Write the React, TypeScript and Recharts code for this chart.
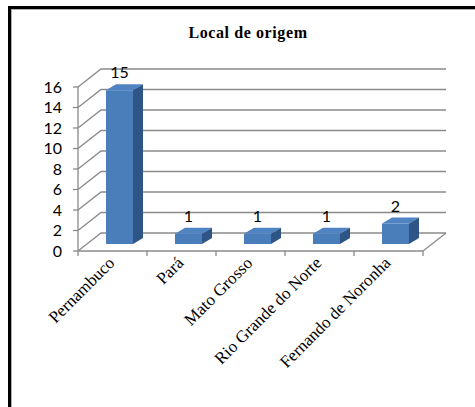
import { BarChart, Bar, XAxis, YAxis, CartesianGrid, LabelList } from "recharts"

const categories = ["Pernambuco", "Pará", "Mato Grosso", "Rio Grande do Norte", "Fernando de Noronha"]
const counts = [15, 1, 1, 1, 2]
const yTicks = [0, 2, 4, 6, 8, 10, 12, 14, 16]

const data = categories.map((name, i) => ({ name, value: counts[i] }))

// plot box (front plane of the 3D floor/walls)
const PLOT_LEFT = 78
const PLOT_RIGHT = 423
const PLOT_TOP = 87
const PLOT_BOTTOM = 251
const W = 475
const H = 407
const BAND = (PLOT_RIGHT - PLOT_LEFT) / categories.length

// depth of the back wall and of the bars
const WALL_DX = 23
const WALL_DY = 18
const BAR_OX = 7
const BAR_OY = -7
const BAR_DX = 10
const BAR_DY = 6

const GRID = "#8a8a8a"
const SANS = "Lato, 'Liberation Sans', sans-serif"
const SERIF = "'Liberation Serif', 'Times New Roman', serif"

function GridLine(p: any) {
  const y = p.y1
  const isFloor = Math.abs(y - PLOT_BOTTOM) < 1
  return (
    <g key={p.key ?? `g-${y}`}>
      <path
        d={`M${p.x1},${y} L${p.x1 + WALL_DX},${y - WALL_DY} L${p.x2 + WALL_DX},${y - WALL_DY}`}
        fill="none"
        stroke={GRID}
        strokeWidth={1.3}
      />
      {isFloor && (
        <line x1={p.x2} y1={y} x2={p.x2 + WALL_DX} y2={y - WALL_DY} stroke={GRID} strokeWidth={1.3} />
      )}
    </g>
  )
}

function Box3D(props: any) {
  const { x, y, width, height } = props
  if (width == null || height == null) return null
  const fx = x + BAR_OX
  const fy = y + BAR_OY
  const r = fx + width
  const b = fy + height
  return (
    <g>
      <rect x={fx} y={fy} width={width} height={height} fill="#4a7ebb" />
      <path d={`M${fx},${fy} L${fx + BAR_DX},${fy - BAR_DY} L${r + BAR_DX},${fy - BAR_DY} L${r},${fy} Z`} fill="#4f83c2" />
      <path d={`M${r},${fy} L${r + BAR_DX},${fy - BAR_DY} L${r + BAR_DX},${b - BAR_DY} L${r},${b} Z`} fill="#2f5587" />
    </g>
  )
}

function ValueLabel(props: any) {
  const { x, y, width, value } = props
  return (
    <text
      x={x + width / 2 + BAR_OX}
      y={y + BAR_OY - BAR_DY - 6}
      textAnchor="middle"
      fontFamily={SANS}
      fontSize={16}
      fill="#000"
    >
      {value}
    </text>
  )
}

function CategoryTick(props: any) {
  const { x, payload, index } = props
  const left = x - BAND / 2
  const ax = x + 3
  const ay = 264
  return (
    <g>
      <line x1={left} y1={PLOT_BOTTOM} x2={left} y2={PLOT_BOTTOM + 5} stroke={GRID} strokeWidth={1.3} />
      {index === categories.length - 1 && (
        <line x1={left + BAND} y1={PLOT_BOTTOM} x2={left + BAND} y2={PLOT_BOTTOM + 5} stroke={GRID} strokeWidth={1.3} />
      )}
      <text
        x={ax}
        y={ay}
        textAnchor="end"
        transform={`rotate(-45, ${ax}, ${ay})`}
        fontFamily={SERIF}
        fontSize={17}
        fill="#000"
      >
        {payload.value}
      </text>
    </g>
  )
}

export default function App() {
  return (
    <div style={{ position: "absolute", left: 0, top: 0, width: W, height: H, overflow: "hidden", background: "#fff" }}>
      <div
        style={{
          position: "absolute",
          left: 8,
          top: 6,
          width: 480,
          height: 420,
          borderTop: "3px solid #000",
          borderLeft: "3px solid #000",
          boxShadow: "inset 1px 1px 0 #b0b0b0",
        }}
      />
      <div
        style={{
          position: "absolute",
          left: 98,
          top: 25,
          width: 300,
          textAlign: "center",
          fontFamily: SERIF,
          fontWeight: "bold",
          fontSize: 16,
          letterSpacing: "0.6px",
          lineHeight: "16px",
        }}
      >
        Local de origem
      </div>
      <div style={{ position: "absolute", left: 0, top: 0 }}>
        <BarChart
          width={W}
          height={H}
          data={data}
          barSize={27}
          margin={{ top: PLOT_TOP, right: W - PLOT_RIGHT, bottom: H - PLOT_BOTTOM - 30, left: PLOT_LEFT - 40 }}
        >
          <CartesianGrid vertical={false} horizontal={GridLine} />
          <XAxis
            dataKey="name"
            height={30}
            interval={0}
            axisLine={{ stroke: GRID, strokeWidth: 1.3 }}
            tickLine={false}
            tick={<CategoryTick />}
          />
          <YAxis
            width={40}
            domain={[0, 16]}
            ticks={yTicks}
            interval={0}
            axisLine={{ stroke: GRID, strokeWidth: 1.3 }}
            tickLine={{ stroke: GRID, strokeWidth: 1.3 }}
            tickSize={5}
            tickMargin={11}
            tick={{ fill: "#000", fontFamily: SANS, fontSize: 16 }}
          />
          <Bar dataKey="value" shape={<Box3D />} isAnimationActive={false}>
            <LabelList dataKey="value" content={<ValueLabel />} />
          </Bar>
        </BarChart>
      </div>
    </div>
  )
}
